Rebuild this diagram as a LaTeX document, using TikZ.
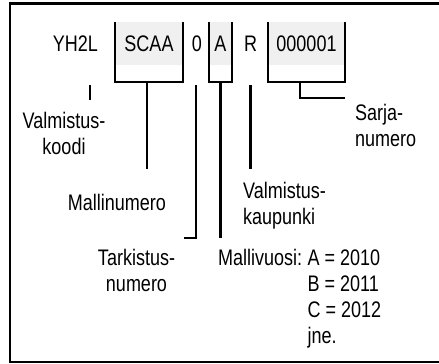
\documentclass[tikz,border=0pt]{standalone}
\usepackage{fontspec}
\setmainfont[FakeStretch=0.80]{Liberation Sans}
\usetikzlibrary{positioning}
\definecolor{boxgray}{RGB}{240,240,240}
\newcommand{\Lblfont}{\fontsize{22.5}{26}\selectfont}

\begin{document}
\begin{tikzpicture}[x=1pt,y=-1pt,font=\Lblfont,
  code/.style={inner sep=0pt,minimum height=43pt},
  field/.style={code,fill=boxgray,minimum width=#1},
  bar/.style={line width=2.2pt},
  lbl/.style={inner sep=0pt,anchor=base,align=center}]
\useasboundingbox (0,0) rectangle (439,364);
\draw[bar] (445,3.5) -| (10,362) -- (445,362);
% code row
\node[code] (yh) at (75.5,43.5) {YH2L};
\node[field=68pt] (scaa) at (149,43.5) {SCAA};
\node[code] (chk) at (197,43.5) {0};
\node[field=23pt] (yr) at (220.5,43.5) {A};
\node[code] (city) at (250.5,43.5) {R};
\node[field=77pt] (ser) at (306.5,43.5) {000001};
% open boxes
\draw[bar] (scaa.north west) |- ([yshift=-17pt]scaa.south east) -- (scaa.north east);
\draw[bar] (yr.north west) |- ([yshift=-17pt]yr.south east) -- (yr.north east);
\draw[bar] (ser.north west) |- ([yshift=-17pt]ser.south east) -- (ser.north east);
% leaders
\draw[bar] ([xshift=14.5pt,yshift=-20pt]yh.south) -- ++(0,15);
\draw[bar] ([xshift=-2pt,yshift=-17pt]scaa.south) -- ++(0,87);
\draw[bar] ([xshift=-1pt,yshift=-20pt]chk.south) -- ++(0,153) -- ++(-12,0);
\draw[bar] ([yshift=-17pt]yr.south) -- ++(0,156);
\draw[bar] ([yshift=-20pt]city.south) -- ++(0,84);
\draw[bar] ([xshift=-6.5pt,yshift=-17pt]ser.south) -- ++(0,16) -- ++(45,0);
% labels (base = last line)
\node[lbl] (koodi) at (64,154) {Valmistus-\\koodi};
\node[lbl] (mnro) at (117,210) {Mallinumero};
\node[lbl,anchor=base west,align=left] (kaup) at (243,224) {Valmistus-\\kaupunki};
\node[lbl,anchor=base west,align=left] (sarja) at (355,146) {Sarja-\\numero};
\node[lbl] (tark) at (136.5,291) {Tarkistus-\\numero};
\node[lbl,anchor=base west] (mv) at (218,265) {Mallivuosi:};
\node[lbl,anchor=base west,align=left] (vuodet) at ([xshift=5pt,yshift=-78pt]mv.base east) {A = 2010\\B = 2011\\C = 2012\\jne.};
\end{tikzpicture}
\end{document}
